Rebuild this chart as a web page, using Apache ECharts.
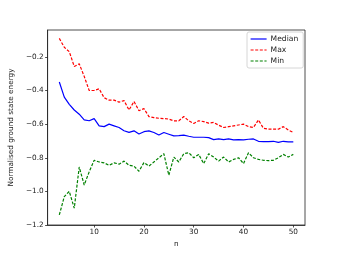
<!DOCTYPE html>
<html>
<head>
    <meta charset="utf-8">
    <title>Normalised ground state energy</title>
    <script src="https://cdn.jsdelivr.net/npm/echarts@6/dist/echarts.min.js"></script>
    <style>
        body { margin: 0; background: #fff; }
    </style>
</head>
<body>
<div id="main" style="width: 338px;height:253px;"></div>
<script type="text/javascript">

    // system size n
    var nValues = [3, 4, 5, 6, 7, 8, 9, 10, 11, 12, 13, 14, 15, 16, 17, 18, 19, 20, 21, 22, 23, 24, 25, 26,
        27, 28, 29, 30, 31, 32, 33, 34, 35, 36, 37, 38, 39, 40, 41, 42, 43, 44, 45, 46, 47, 48, 49, 50];
    var medianVals = [-0.349, -0.439, -0.482, -0.516, -0.541, -0.575, -0.58, -0.567, -0.61, -0.615, -0.6, -0.61,
        -0.62, -0.639, -0.649, -0.64, -0.659, -0.645, -0.64, -0.65, -0.665, -0.65, -0.66, -0.67,
        -0.668, -0.665, -0.672, -0.678, -0.678, -0.678, -0.68, -0.692, -0.688, -0.692, -0.688, -0.694,
        -0.692, -0.694, -0.69, -0.688, -0.702, -0.704, -0.704, -0.702, -0.708, -0.702, -0.706, -0.706];
    var maxVals = [-0.09, -0.143, -0.169, -0.257, -0.241, -0.316, -0.40, -0.40, -0.39, -0.443, -0.457, -0.457,
        -0.469, -0.46, -0.516, -0.465, -0.52, -0.508, -0.555, -0.561, -0.565, -0.567, -0.57, -0.58,
        -0.58, -0.555, -0.58, -0.596, -0.58, -0.585, -0.594, -0.59, -0.606, -0.62, -0.615, -0.61,
        -0.605, -0.60, -0.615, -0.62, -0.575, -0.625, -0.63, -0.63, -0.63, -0.615, -0.635, -0.65];
    var minVals = [-1.14, -1.031, -1.0, -1.10, -0.855, -0.962, -0.884, -0.815, -0.825, -0.83, -0.845, -0.83,
        -0.838, -0.82, -0.845, -0.85, -0.88, -0.829, -0.85, -0.825, -0.80, -0.776, -0.904, -0.796,
        -0.825, -0.776, -0.77, -0.80, -0.78, -0.835, -0.776, -0.796, -0.82, -0.796, -0.825, -0.81,
        -0.80, -0.835, -0.77, -0.80, -0.81, -0.815, -0.817, -0.815, -0.80, -0.78, -0.796, -0.78];

    // tick labels
    var xTicks = [10, 20, 30, 40, 50];
    var yTicks = [-1.2, -1.0, -0.8, -0.6, -0.4, -0.2];

    function pairs(vals) {
        var out = [];
        for (var i = 0; i < nValues.length; i++) {
            out.push([nValues[i], vals[i]]);
        }
        return out;
    }

    var font = 'DejaVu Sans';
    var myChart = echarts.init(document.getElementById('main'), null, {renderer: 'canvas'});

    var option = {
        animation: false,
        backgroundColor: '#ffffff',
        grid: {
            left: 42, right: 33, top: 30, bottom: 28,
            show: true,
            borderColor: '#222222',
            borderWidth: 0.8
        },
        legend: {
            left: 247, top: 32,
            orient: 'vertical',
            backgroundColor: '#ffffff',
            borderColor: '#cccccc',
            borderWidth: 0.8,
            borderRadius: 2,
            padding: [3, 5, 3, 3],
            itemGap: 3,
            itemWidth: 16,
            itemHeight: 8,
            // only the line sample, no marker
            itemStyle: {opacity: 0},
            lineStyle: {width: 1.2},
            textStyle: {fontFamily: font, fontSize: 7.6, color: '#222222', padding: [0, 0, 0, -1]},
            data: ['Median', 'Max', 'Min']
        },
        xAxis: {
            type: 'value',
            min: 0.65,
            max: 52.35,
            name: 'n',
            nameLocation: 'middle',
            nameGap: 16,
            nameTextStyle: {fontFamily: font, fontSize: 7.3, color: '#222222'},
            splitLine: {show: false},
            axisLine: {show: true, lineStyle: {color: '#222222', width: 0.8}},
            axisTick: {show: true, customValues: xTicks, length: 2.5, lineStyle: {color: '#222222', width: 0.8}},
            axisLabel: {
                customValues: xTicks,
                margin: 4,
                fontFamily: font, fontSize: 7.3, color: '#222222',
                formatter: function (v) { return String(v); }
            }
        },
        yAxis: {
            type: 'value',
            min: -1.2,
            max: -0.04,
            name: 'Normalised ground state energy',
            nameLocation: 'middle',
            nameGap: 25,
            nameTextStyle: {fontFamily: font, fontSize: 7.3, color: '#222222'},
            splitLine: {show: false},
            axisLine: {show: true, lineStyle: {color: '#222222', width: 0.8}},
            axisTick: {show: true, customValues: yTicks, length: 2.5, lineStyle: {color: '#222222', width: 0.8}},
            axisLabel: {
                customValues: yTicks,
                margin: 4,
                fontFamily: font, fontSize: 7.3, color: '#222222',
                formatter: function (v) {
                    return (v < 0 ? '\u2212' : '') + Math.abs(v).toFixed(1);
                }
            }
        },
        series: [{
            name: 'Median',
            type: 'line',
            symbol: 'none',
            color: '#0000ff',
            lineStyle: {color: '#0000ff', width: 1.2},
            data: pairs(medianVals)
        }, {
            name: 'Max',
            type: 'line',
            symbol: 'none',
            color: '#ff0000',
            lineStyle: {color: '#ff0000', width: 1.2, type: [3, 1.6]},
            data: pairs(maxVals)
        }, {
            name: 'Min',
            type: 'line',
            symbol: 'none',
            color: '#008000',
            lineStyle: {color: '#008000', width: 1.2, type: [3, 1.6]},
            data: pairs(minVals)
        }]
    };

    myChart.setOption(option);
</script>
</body>
</html>
